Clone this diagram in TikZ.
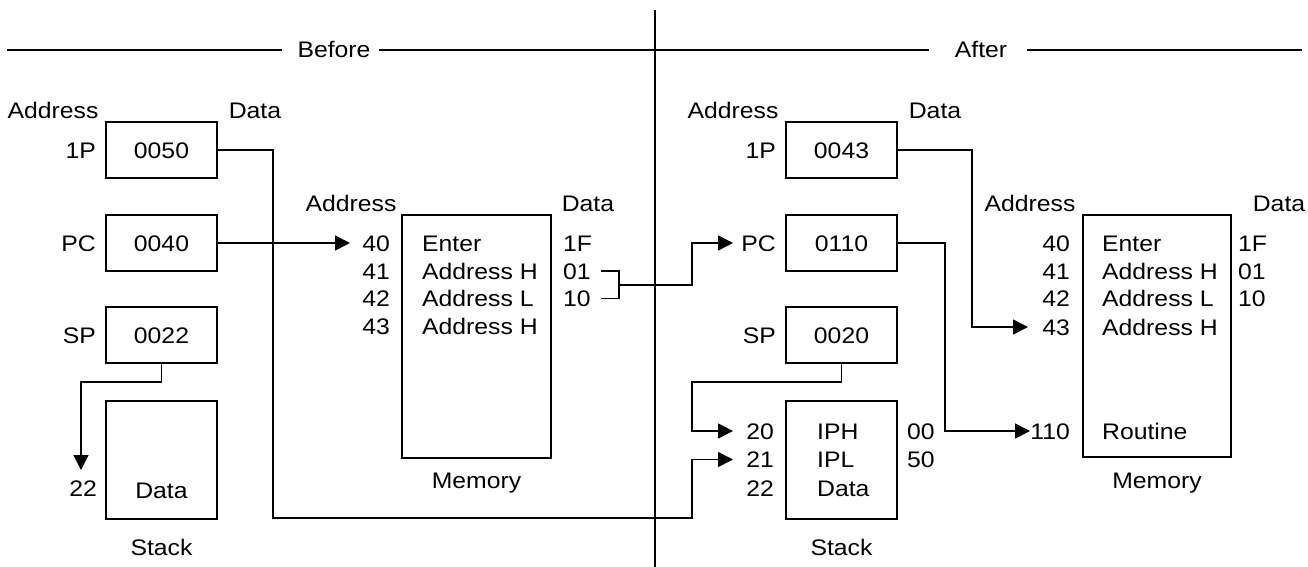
\documentclass[tikz,border=0pt]{standalone}
\usepackage{fontspec}
\setmainfont{Liberation Sans}[FakeStretch=1.1]
\usetikzlibrary{arrows.meta}
\begin{document}
\begin{tikzpicture}[x=1pt,y=-1pt,
  every node/.style={font=\fontsize{22.5}{27}\selectfont, inner sep=0pt, text height=16pt, text depth=0pt},
  regbox/.style={draw, line width=1.6pt, minimum width=111pt, minimum height=56pt},
  membox/.style={draw, line width=1.6pt, minimum width=149pt, minimum height=243pt},
  stkbox/.style={draw, line width=1.6pt, minimum width=111pt, minimum height=118pt},
  conn/.style={line width=1.6pt},
  arr/.style={line width=1.6pt, -{Triangle[length=15pt,width=15pt]}},
  lbl/.style={anchor=east},
  txt/.style={anchor=west}]
\useasboundingbox (0,0) rectangle (1308,567);
% header
\node (before) at (334,50) {Before};
\node (after) at (981,50) {After};
\coordinate (h1) at (7,50); \coordinate (h2) at (282,50);
\coordinate (h3) at (379,50); \coordinate (h4) at (929,50);
\coordinate (h5) at (1027,50); \coordinate (h6) at (1302,50);
\coordinate (v1) at (655,10); \coordinate (v2) at (655,567);
\draw[conn] (h1) -- (h2);
\draw[conn] (h3) -- (h4);
\draw[conn] (h5) -- (h6);
\draw[conn] (v1) -- (v2);

% ===== Before =====
\node (addrL) at (53,111) {Address};
\node (dataL) at (255,111) {Data};
\node[lbl] (l1p) at (96,150) {1P};
\node[regbox] (ip1) at (161.5,150) {0050};
\node[lbl] (lpc) at (96,243) {PC};
\node[regbox] (pc) at (161.5,243) {0040};
\node[lbl] (lsp) at (96,335) {SP};
\node[regbox] (sp) at (161.5,335) {0022};
\node[stkbox] (stkL) at (161.5,460) {};
\node (stkLd) at (161.5,490) {Data};
\node[lbl] (n22L) at (97,488) {22};
\node (stkLl) at (161.5,547) {Stack};

\node[membox] (memL) at (476.5,336.5) {};
\node (maddrL) at (351,203) {Address};
\node (mdataL) at (588,203) {Data};
\node[lbl] (m40) at (390,243) {40};
\node[lbl] (m41) at (390,271) {41};
\node[lbl] (m42) at (390,298.5) {42};
\node[lbl] (m43) at (390,326) {43};
\node[txt] (e40) at (422,243) {Enter};
\node[txt] (e41) at (422,271) {Address H};
\node[txt] (e42) at (422,298.5) {Address L};
\node[txt] (e43) at (422,326) {Address H};
\node[txt] (d40) at (563,243) {1F};
\node[txt] (d01) at (563,271) {01};
\node[txt] (d10) at (563,298.5) {10};
\node (memLl) at (476.5,480) {Memory};

% ===== After =====
\node (addrR) at (733,111) {Address};
\node (dataR) at (935,111) {Data};
\node[lbl] (r1p) at (776,150) {1P};
\node[regbox] (ip1b) at (841.5,150) {0043};
\node[lbl] (rpc) at (776,243) {PC};
\node[regbox] (pcb) at (841.5,243) {0110};
\node[lbl] (rsp) at (776,335) {SP};
\node[regbox] (spb) at (841.5,335) {0020};
\node[stkbox] (stkR) at (841.5,460) {};
\node[lbl] (s20) at (774,431) {20};
\node[lbl] (s21) at (774,459.5) {21};
\node[lbl] (s22) at (774,488) {22};
\node[txt] (sIPH) at (817,431) {IPH};
\node[txt] (sIPL) at (817,459.5) {IPL};
\node[txt] (sDat) at (817,488) {Data};
\node[txt] (s00) at (907,431) {00};
\node[txt] (s50) at (907,459.5) {50};
\node (stkRl) at (841.5,547) {Stack};

\node[membox, minimum width=148pt, minimum height=242pt] (memR) at (1157,336) {};
\node (maddrR) at (1030,203) {Address};
\node (mdataR) at (1279,203) {Data};
\node[lbl] (n40) at (1070,243) {40};
\node[lbl] (n41) at (1070,271) {41};
\node[lbl] (n42) at (1070,298.5) {42};
\node[lbl] (n43) at (1070,327) {43};
\node[lbl] (n110) at (1070,431) {110};
\node[txt] (f40) at (1102,243) {Enter};
\node[txt] (f41) at (1102,271) {Address H};
\node[txt] (f42) at (1102,298.5) {Address L};
\node[txt] (f43) at (1102,327) {Address H};
\node[txt] (f110) at (1102,431) {Routine};
\node[txt] (g40) at (1238,243) {1F};
\node[txt] (g41) at (1238,271) {01};
\node[txt] (g42) at (1238,298.5) {10};
\node (memRl) at (1157,480) {Memory};

% ===== connectors =====
\coordinate (t40) at (350,243);
\coordinate (t22) at (81,470);
\coordinate (tpc) at (733,243);
\coordinate (t20) at (733,431);
\coordinate (t21) at (733,459.5);
\coordinate (t43) at (1028,327);
\coordinate (t110) at (1030,431);
\coordinate (br) at (619,284.75);

\draw[arr] (pc.east) -- (t40);
\draw[arr] (sp.south) |- (81,382) -- (t22);
\draw[arr] (ip1.east) -| (273,518) -| (692,459.5) -- (t21);
\draw[conn] ([xshift=10pt]d01.east) -| (br) |- ([xshift=10pt]d10.east);
\draw[arr] (br) -| (692,243) -- (tpc);
\draw[arr] (spb.south) |- (692,382) |- (t20);
\draw[arr] (ip1b.east) -| (972,327) -- (t43);
\draw[arr] (pcb.east) -| (945,431) -- (t110);
\end{tikzpicture}
\end{document}
